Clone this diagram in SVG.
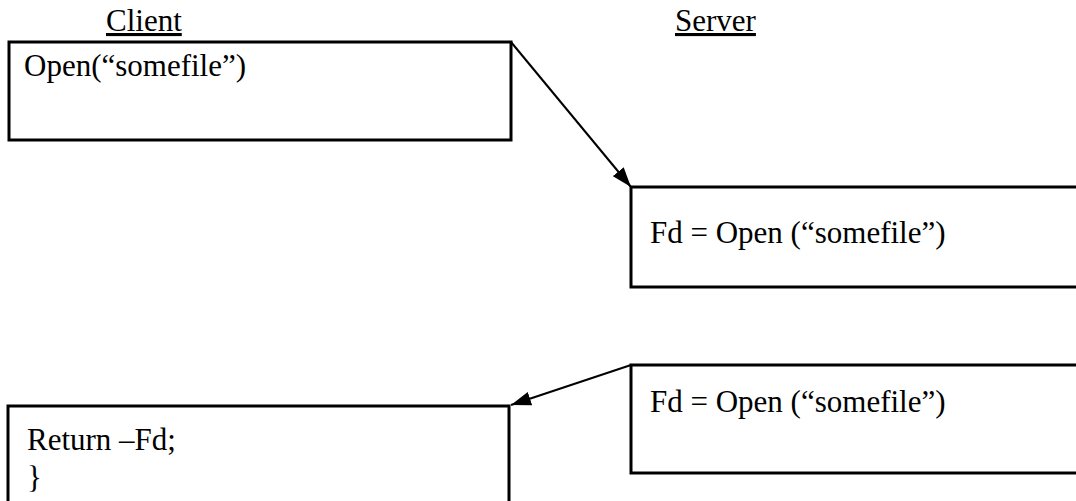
<svg xmlns="http://www.w3.org/2000/svg" width="1076" height="501" viewBox="0 0 1076 501">
<defs>
<marker id="ah" viewBox="0 0 20 14" refX="20" refY="7" markerWidth="20" markerHeight="14" markerUnits="userSpaceOnUse" orient="auto">
<path d="M0,0 L20,7 L0,14 z" fill="#000"/>
</marker>
<style>
text{font-family:'Times New Roman',Tinos,'DejaVu Serif',serif;font-size:31px;fill:#000}
.u{text-decoration:underline}
.b{fill:#fff;stroke:#000;stroke-width:3}
.c{stroke:#000;stroke-width:2;fill:none;marker-end:url(#ah)}
</style>
</defs>
<rect width="1076" height="501" fill="#fff"/>
<text class="u" x="106" y="31">Client</text>
<text class="u" x="675" y="31">Server</text>
<g id="client-open">
<rect class="b" x="9" y="42" width="502" height="98"/>
<text x="24" y="76">Open(“somefile”)</text>
</g>
<g id="server-open-1">
<rect class="b" x="631" y="187" width="460" height="100"/>
<text x="650" y="243">Fd = Open (“somefile”)</text>
</g>
<g id="server-open-2">
<rect class="b" x="631" y="365" width="460" height="108"/>
<text x="650" y="412">Fd = Open (“somefile”)</text>
</g>
<g id="client-return">
<rect class="b" x="8" y="406" width="501" height="110"/>
<text x="27" y="450">Return –Fd;</text>
<text x="27" y="488">}</text>
</g>
<g id="connectors">
<line class="c" x1="511" y1="42" x2="631" y2="187"/>
<line class="c" x1="631" y1="365" x2="511" y2="405"/>
</g>
</svg>
